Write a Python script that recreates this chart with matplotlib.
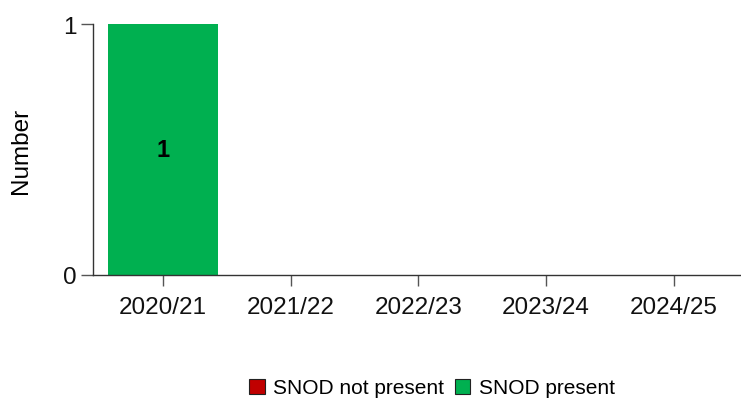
import matplotlib
matplotlib.use("Agg")
import matplotlib.pyplot as plt
from matplotlib.patches import Patch

plt.rcParams['font.family'] = ['Liberation Sans', 'DejaVu Sans']

years = ["2020/21", "2021/22", "2022/23", "2023/24", "2024/25"]
not_present = [0, 0, 0, 0, 0]
present = [1, 0, 0, 0, 0]
series_names = ["SNOD not present", "SNOD present"]
colors = ["#C00000", "#00B050"]

fig = plt.figure(figsize=(7.41, 4.02), dpi=100)
ax = fig.add_axes([93/741, 1-276/402, (741-93)/741, (276-25)/402])

x = list(range(len(years)))
w = 0.86
ax.bar(x, not_present, width=w, color=colors[0])
ax.bar(x, present, width=w, bottom=not_present, color=colors[1])
for xi, n, p in zip(x, not_present, present):
    if n > 0:
        ax.text(xi, n/2, str(n), ha='center', va='center', fontsize=17, fontweight='bold')
    if p > 0:
        ax.text(xi, n + p/2, str(p), ha='center', va='center', fontsize=17, fontweight='bold')

ax.set_xlim(-0.548, 4.526)
ax.set_ylim(0, 1)
ax.set_yticks([0, 1])
ax.set_xticks(x)
ax.set_xticklabels(years)
ax.tick_params(axis='both', labelsize=17.5, labelcolor='#111111', width=1, direction='out')
ax.tick_params(axis='x', color='#555555', length=8, pad=7)
ax.tick_params(axis='y', color='#555555', length=9, pad=3)
for s in ['top', 'right']:
    ax.spines[s].set_visible(False)
for s in ['left', 'bottom']:
    ax.spines[s].set_color('#333333')
    ax.spines[s].set_linewidth(1)
ax.set_ylabel("Number", fontsize=17.5, labelpad=22)

handles = [Patch(facecolor=c, edgecolor='#222222', linewidth=0.8) for c in colors]
fig.legend(handles, series_names, loc='center', bbox_to_anchor=(432/741, 1-389/402),
           ncol=2, frameon=False, fontsize=15, handlelength=0.75, handleheight=0.75,
           handletextpad=0.4, columnspacing=0.5)

fig.savefig("out.png", dpi=100)
